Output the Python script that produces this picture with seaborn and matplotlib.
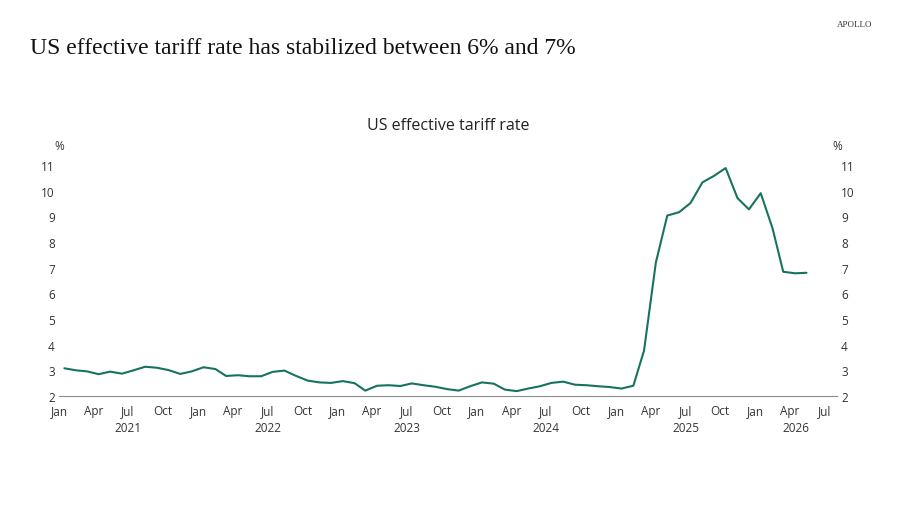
import pandas as pd
import matplotlib.pyplot as plt
import matplotlib.dates as mdates
import seaborn as sns

# Monthly US effective tariff rate (%), Jan 2021 - May 2026
rate_2021 = [3.08, 3.00, 2.96, 2.85, 2.95, 2.87, 3.00, 3.14, 3.10, 3.01, 2.86, 2.96]
rate_2022 = [3.12, 3.05, 2.78, 2.81, 2.77, 2.77, 2.94, 2.99, 2.78, 2.60, 2.53, 2.51]
rate_2023 = [2.58, 2.50, 2.21, 2.40, 2.42, 2.39, 2.49, 2.42, 2.36, 2.27, 2.21, 2.38]
rate_2024 = [2.53, 2.48, 2.25, 2.19, 2.29, 2.38, 2.51, 2.56, 2.44, 2.42, 2.38, 2.35]
rate_2025 = [2.29, 2.40, 3.77, 7.20, 9.03, 9.16, 9.52, 10.32, 10.58, 10.88, 9.71, 9.27]
rate_2026 = [9.90, 8.53, 6.84, 6.78, 6.80]

rates = rate_2021 + rate_2022 + rate_2023 + rate_2024 + rate_2025 + rate_2026
months = pd.date_range("2021-01-01", periods=len(rates), freq="MS") + pd.Timedelta(days=14)
years = [2021, 2022, 2023, 2024, 2025, 2026]
y_ticks = list(range(2, 12))

df = pd.DataFrame({"date": months, "rate": rates})

sns.set_style("white")
plt.rcParams["font.family"] = ["Open Sans", "DejaVu Sans"]

text_col = "#333333"
axis_col = "#8c8c8c"
line_col = "#16735f"

fig = plt.figure(figsize=(9, 5.06), dpi=100)
ax = fig.add_axes([0.0656, 0.2154, 0.8644, 0.4566])

sns.lineplot(data=df, x="date", y="rate", ax=ax, color=line_col, linewidth=1.5)

x_start = pd.Timestamp("2021-01-01")
x_end = pd.Timestamp("2026-08-03")
ax.set_xlim(x_start, x_end)
ax.set_ylim(2, 11)
ax.set_yticks(y_ticks)
ax.set_xlabel("")
ax.set_ylabel("")

for s in ["top", "left", "right"]:
    ax.spines[s].set_visible(False)
ax.spines["bottom"].set_color(axis_col)
ax.spines["bottom"].set_linewidth(0.8)

ax.xaxis.set_major_locator(mdates.MonthLocator(bymonth=[1, 4, 7, 10]))
ax.xaxis.set_major_formatter(mdates.DateFormatter("%b"))
ax.tick_params(axis="x", direction="in", length=3, width=0.8, color=axis_col,
               labelsize=8.5, labelcolor=text_col, pad=6)
ax.tick_params(axis="y", length=0, labelsize=8.5, labelcolor=text_col,
               labelleft=True, labelright=True, pad=3)

# year labels under the month labels, centred on the visible part of each year
for yr in years:
    a = max(pd.Timestamp(f"{yr}-01-01"), x_start)
    b = min(pd.Timestamp(f"{yr}-12-31"), x_end)
    mid = a + (b - a) / 2
    ax.text(mdates.date2num(mid), -0.138, str(yr), transform=ax.get_xaxis_transform(),
            ha="center", va="center", fontsize=8.5, color=text_col)

# % unit labels above both axes
ax.text(0, 1.083, "%", transform=ax.transAxes, ha="center", va="center",
        fontsize=8.5, color=text_col)
ax.text(1, 1.083, "%", transform=ax.transAxes, ha="center", va="center",
        fontsize=8.5, color=text_col)

ax.set_title("US effective tariff rate", fontsize=11.5, color="#222222", pad=26)

fig.text(0.033, 0.905, "US effective tariff rate has stabilized between 6% and 7%",
         family="Liberation Serif", fontsize=17, color="#111111", va="center")
fig.text(0.969, 0.951, "APOLLO", family="Liberation Serif", fontsize=6.5,
         color="#333333", ha="right", va="center")

fig.savefig("out.png", dpi=100)
